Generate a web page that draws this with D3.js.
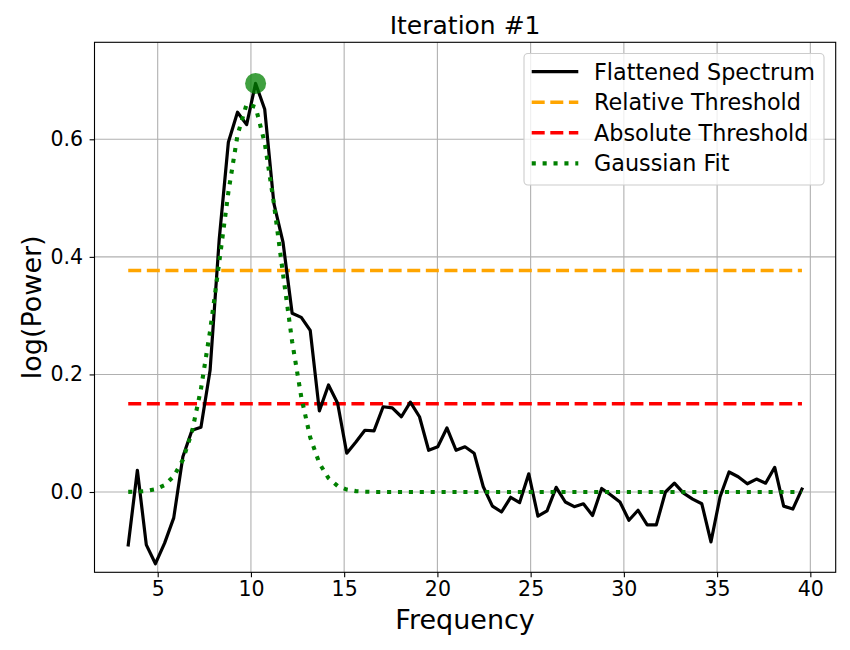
<!DOCTYPE html>
<html>
<head>
<meta charset="utf-8">
<script src="https://cdn.jsdelivr.net/npm/d3@7"></script>
<style>
  body { margin: 0; background: #fff; }
  svg { font-family: "DejaVu Sans", sans-serif; }
</style>
</head>
<body>
<svg id="chart" width="850" height="650"></svg>
<script>
// ---- data ----
const freqs = [3.42, 3.91, 4.39, 4.88, 5.37, 5.86, 6.35, 6.84, 7.32, 7.81,
  8.30, 8.79, 9.28, 9.77, 10.25, 10.74, 11.23, 11.72, 12.21, 12.70,
  13.18, 13.67, 14.16, 14.65, 15.14, 15.63, 16.11, 16.60, 17.09, 17.58,
  18.07, 18.55, 19.04, 19.53, 20.02, 20.51, 21.00, 21.48, 21.97, 22.46,
  22.95, 23.44, 23.93, 24.41, 24.90, 25.39, 25.88, 26.37, 26.86, 27.34,
  27.83, 28.32, 28.81, 29.30, 29.79, 30.27, 30.76, 31.25, 31.74, 32.23,
  32.71, 33.20, 33.69, 34.18, 34.67, 35.16, 35.64, 36.13, 36.62, 37.11,
  37.60, 38.09, 38.57, 39.06, 39.55];
const flatSpectrum = [-0.090, 0.037, -0.090, -0.122, -0.087, -0.044, 0.060, 0.105, 0.110, 0.207,
  0.430, 0.595, 0.646, 0.625, 0.695, 0.651, 0.491, 0.425, 0.304, 0.297,
  0.275, 0.138, 0.182, 0.151, 0.066, 0.085, 0.105, 0.104, 0.145, 0.143,
  0.128, 0.153, 0.128, 0.071, 0.077, 0.109, 0.071, 0.077, 0.066, 0.009,
  -0.024, -0.034, -0.009, -0.018, 0.031, -0.041, -0.032, 0.008, -0.017, -0.025,
  -0.020, -0.040, 0.006, -0.005, -0.017, -0.048, -0.031, -0.056, -0.056, 0.000,
  0.015, -0.002, -0.012, -0.020, -0.085, -0.008, 0.034, 0.026, 0.014, 0.022,
  0.015, 0.042, -0.024, -0.029, 0.005];
const gaussFit = [0.0002, 0.0006, 0.0018, 0.0048, 0.0118, 0.0266, 0.0547, 0.1024, 0.1752, 0.2741,
  0.391, 0.510, 0.607, 0.660, 0.655, 0.594, 0.491, 0.371, 0.256, 0.1616,
  0.0929, 0.0489, 0.0235, 0.0103, 0.0041, 0.0015, 0.0005, 0.0001, 0, 0,
  0, 0, 0, 0, 0, 0, 0, 0, 0, 0,
  0, 0, 0, 0, 0, 0, 0, 0, 0, 0,
  0, 0, 0, 0, 0, 0, 0, 0, 0, 0,
  0, 0, 0, 0, 0, 0, 0, 0, 0, 0,
  0, 0, 0, 0, 0];
const relThreshold = 0.377;
const absThreshold = 0.15;
const peakPoint = [10.25, 0.695];
const xTicks = [5, 10, 15, 20, 25, 30, 35, 40];
const yTicks = [0.0, 0.2, 0.4, 0.6];
const titleText = "Iteration #1";
const xLabel = "Frequency";
const yLabel = "log(Power)";
const legendLabels = ["Flattened Spectrum", "Relative Threshold", "Absolute Threshold", "Gaussian Fit"];

// ---- layout ----
const L = 94.5, R = 835.7, T = 42.3, B = 572.3;
const svg = d3.select("#chart");
const x = d3.scaleLinear().domain([1.611, 41.36]).range([L, R]);
const y = d3.scaleLinear().domain([-0.1366, 0.765]).range([B, T]);

// grid
const grid = svg.append("g");
grid.selectAll(".gx").data(xTicks).join("line")
  .attr("x1", d => x(d)).attr("x2", d => x(d)).attr("y1", T).attr("y2", B)
  .attr("stroke", "#b0b0b0").attr("stroke-width", 1.1);
grid.selectAll(".gy").data(yTicks).join("line")
  .attr("y1", d => y(d)).attr("y2", d => y(d)).attr("x1", L).attr("x2", R)
  .attr("stroke", "#b0b0b0").attr("stroke-width", 1.1);

// axes
const xAxis = svg.append("g").attr("transform", `translate(0,${B})`)
  .call(d3.axisBottom(x).tickValues(xTicks).tickFormat(d3.format("d")).tickSize(4.9).tickPadding(4.5));
const yAxis = svg.append("g").attr("transform", `translate(${L},0)`)
  .call(d3.axisLeft(y).tickValues(yTicks).tickFormat(d3.format(".1f")).tickSize(4.9).tickPadding(6.5));
[xAxis, yAxis].forEach(a => {
  a.select(".domain").remove();
  a.selectAll(".tick line").attr("stroke", "#000").attr("stroke-width", 1.1);
  a.selectAll(".tick text").attr("fill", "#000").attr("font-size", 20.5)
    .attr("font-family", "DejaVu Sans, sans-serif");
});

// threshold lines
const xs = d3.extent(freqs);
svg.append("line").attr("x1", x(xs[0])).attr("x2", x(xs[1]))
  .attr("y1", y(relThreshold)).attr("y2", y(relThreshold))
  .attr("stroke", "orange").attr("stroke-width", 3.5).attr("stroke-dasharray", "13,5.6");
svg.append("line").attr("x1", x(xs[0])).attr("x2", x(xs[1]))
  .attr("y1", y(absThreshold)).attr("y2", y(absThreshold))
  .attr("stroke", "red").attr("stroke-width", 3.5).attr("stroke-dasharray", "13,5.6");

// spectrum
const line = d3.line().x(d => x(d[0])).y(d => y(d[1]));
svg.append("path").datum(freqs.map((f, i) => [f, flatSpectrum[i]]))
  .attr("d", line).attr("fill", "none").attr("stroke", "#000")
  .attr("stroke-width", 3.2).attr("stroke-linejoin", "round").attr("stroke-linecap", "square");

// gaussian fit
svg.append("path").datum(freqs.map((f, i) => [f, gaussFit[i]]))
  .attr("d", line).attr("fill", "none").attr("stroke", "green")
  .attr("stroke-width", 4.1).attr("stroke-dasharray", "4.1,6.8");

// peak marker
svg.append("circle").attr("cx", x(peakPoint[0])).attr("cy", y(peakPoint[1]))
  .attr("r", 10.5).attr("fill", "green").attr("fill-opacity", 0.75);

// frame
svg.append("rect").attr("x", L).attr("y", T).attr("width", R - L).attr("height", B - T)
  .attr("fill", "none").attr("stroke", "#000").attr("stroke-width", 1.1);

// legend
const lg = svg.append("g");
lg.append("rect").attr("x", 524).attr("y", 53.5).attr("width", 300).attr("height", 131.5)
  .attr("rx", 4).attr("fill", "#fff").attr("fill-opacity", 0.8)
  .attr("stroke", "#cccccc").attr("stroke-width", 1.1);
const styles = [
  { c: "#000", w: 3.2, dash: null },
  { c: "orange", w: 3.5, dash: "13,5.6" },
  { c: "red", w: 3.5, dash: "13,5.6" },
  { c: "green", w: 4.1, dash: "4.1,6.8" }
];
legendLabels.forEach((lab, i) => {
  const cy = 71.7 + i * 30.55;
  const s = styles[i];
  const ln = lg.append("line").attr("x1", 531.7).attr("x2", 578.3).attr("y1", cy).attr("y2", cy)
    .attr("stroke", s.c).attr("stroke-width", s.w);
  if (s.dash) ln.attr("stroke-dasharray", s.dash);
  lg.append("text").attr("x", 594).attr("y", cy).attr("dy", "0.36em")
    .attr("font-size", 22.3).attr("fill", "#000").text(lab);
});

// title & labels
svg.append("text").attr("x", (L + R) / 2).attr("y", 34).attr("text-anchor", "middle")
  .attr("font-size", 25).attr("fill", "#000").text(titleText);
svg.append("text").attr("x", (L + R) / 2).attr("y", 629).attr("text-anchor", "middle")
  .attr("font-size", 27).attr("fill", "#000").text(xLabel);
svg.append("text").attr("transform", `translate(41,${(T + B) / 2}) rotate(-90)`)
  .attr("text-anchor", "middle").attr("font-size", 27).attr("fill", "#000").text(yLabel);
</script>
</body>
</html>
